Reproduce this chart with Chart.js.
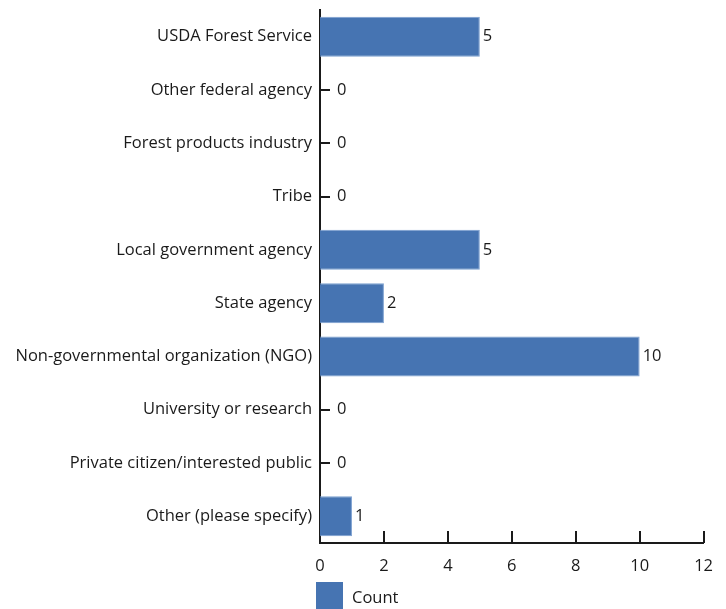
<!DOCTYPE html>
<html>
<head>
<meta charset="utf-8">
<script src="https://cdn.jsdelivr.net/npm/chart.js@4/dist/chart.umd.min.js"></script>
<style>
  html, body { margin: 0; padding: 0; background: #fff; }
  #wrap { width: 726px; height: 609px; position: relative; }
</style>
</head>
<body>
<div id="wrap"><canvas id="c"></canvas></div>
<script>
const categories = [
  "USDA Forest Service",
  "Other federal agency",
  "Forest products industry",
  "Tribe",
  "Local government agency",
  "State agency",
  "Non-governmental organization (NGO)",
  "University or research",
  "Private citizen/interested public",
  "Other (please specify)"
];
const counts = [5, 0, 0, 0, 5, 2, 10, 0, 0, 1];
const xTicks = [0, 2, 4, 6, 8, 10, 12];
const seriesName = "Count";

const FONT = "'Open Sans', 'Noto Sans', sans-serif";
const FSIZE = 16.5;
const BAR = "#4674b2";
const BAR_EDGE = "#7b9fd0";
const INK = "#1a1a1a";

// short tick marks pointing into the plot area, drawn under the bars
const innerTicks = {
  id: "innerTicks",
  beforeDatasetsDraw(chart) {
    const { ctx, chartArea, scales } = chart;
    ctx.save();
    ctx.strokeStyle = INK;
    ctx.lineWidth = 2;
    ctx.beginPath();
    scales.y.ticks.forEach((t, i) => {
      const y = Math.round(scales.y.getPixelForTick(i));
      ctx.moveTo(chartArea.left, y);
      ctx.lineTo(chartArea.left + 10, y);
    });
    xTicks.forEach(v => {
      const x = Math.round(scales.x.getPixelForValue(v));
      ctx.moveTo(x, chartArea.bottom);
      ctx.lineTo(x, chartArea.bottom - 12);
    });
    ctx.stroke();
    ctx.restore();
  }
};

// value labels at the end of each bar, plus the series key below the axis
const barLabels = {
  id: "barLabels",
  afterDatasetsDraw(chart) {
    const { ctx, chartArea } = chart;
    const meta = chart.getDatasetMeta(0);
    ctx.save();
    ctx.font = FSIZE + "px " + FONT;
    ctx.fillStyle = INK;
    ctx.textBaseline = "middle";
    ctx.textAlign = "left";
    meta.data.forEach((el, i) => {
      const v = chart.data.datasets[0].data[i];
      const x = v === 0 ? el.x + 17 : el.x + 3;
      ctx.fillText(String(v), x, el.y);
    });
    // key
    const kx = chartArea.left - 4, ky = 582;
    ctx.fillStyle = BAR;
    ctx.fillRect(kx, ky, 27, 27);
    ctx.fillStyle = INK;
    ctx.fillText(seriesName, kx + 36, ky + 16);
    ctx.restore();
  }
};

new Chart(document.getElementById("c"), {
  type: "bar",
  data: {
    labels: categories,
    datasets: [{
      label: seriesName,
      data: counts,
      backgroundColor: BAR,
      borderColor: BAR_EDGE,
      borderWidth: { top: 1, right: 1, bottom: 1, left: 0 },
      borderSkipped: "left",
      barPercentage: 0.75,
      categoryPercentage: 1.0
    }]
  },
  options: {
    indexAxis: "y",
    responsive: true,
    maintainAspectRatio: false,
    animation: false,
    layout: { padding: { left: 0, right: 10, top: 10, bottom: 0 } },
    plugins: {
      legend: { display: false },
      tooltip: { enabled: false }
    },
    scales: {
      x: {
        min: 0,
        max: 12,
        afterBuildTicks(scale) { scale.ticks = xTicks.map(v => ({ value: v })); },
        grid: { display: false, drawTicks: false },
        border: { display: true, color: INK, width: 2 },
        ticks: { font: { size: FSIZE, family: FONT }, color: INK, padding: 13 },
        afterFit(scale) { scale.height = 66; }
      },
      y: {
        grid: { display: false, drawTicks: false },
        border: { display: true, color: INK, width: 2 },
        ticks: { font: { size: FSIZE, family: FONT }, color: INK, padding: 8, autoSkip: false },
        afterFit(scale) {
          scale.width = 320;
          scale.paddingTop = 0;
          scale.paddingBottom = 0;
        }
      }
    }
  },
  plugins: [innerTicks, barLabels]
});
</script>
</body>
</html>
